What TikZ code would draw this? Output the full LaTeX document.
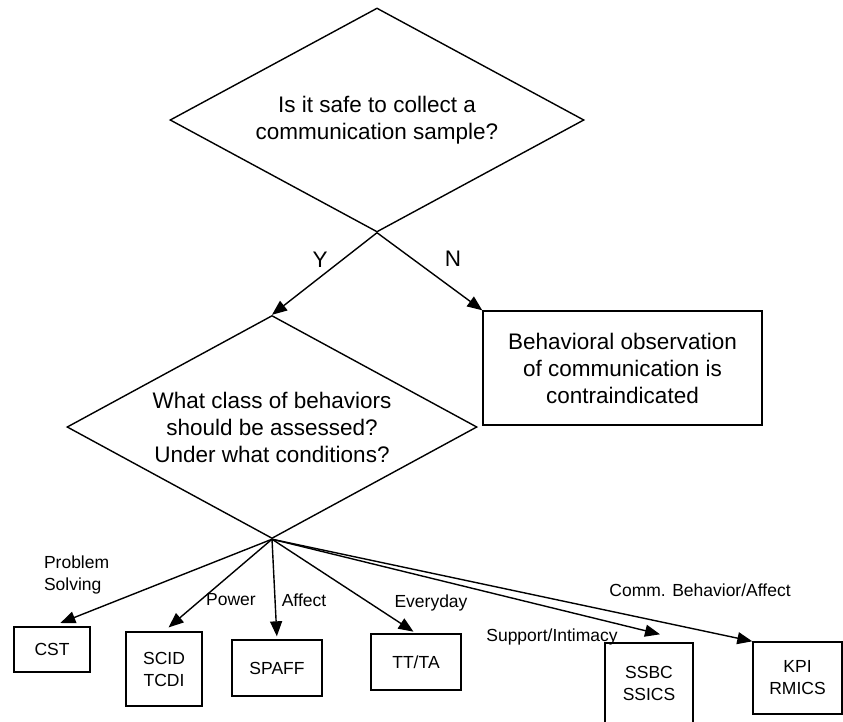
\documentclass[tikz,border=0pt]{standalone}
\usepackage{fontspec}
\setmainfont{Liberation Sans}
\usetikzlibrary{shapes.geometric}
\usetikzlibrary{arrows.meta,positioning}
\tikzset{fleche/.style={-{Triangle[length=15pt,width=12pt]}}}
\newcommand\grand{\fontsize{22.5}{27}\selectfont}
\newcommand\petit{\fontsize{17.5}{22}\selectfont}

\begin{document}
\begin{tikzpicture}[x=1pt,y=-1pt,line width=1.4pt]%
        \useasboundingbox (0,0) rectangle (843,721);%%
        \clip (0,0) rectangle (843,721);%%
        \begin{scope}[shape=diamond,inner sep=0pt,aspect=1.84]
        \tikzstyle{every node}=[draw,font=\grand,align=center] %%
        \node[minimum width=414pt,minimum height=224pt] (q1) at (377,120) {Is it safe to collect a\\communication sample?}; %%
        \node[minimum width=410pt,minimum height=223pt] (q2) at (272,427) {What class of behaviors\\should be assessed?\\Under what conditions?}; %%
        \end{scope}
        \node[draw,minimum width=279pt,minimum height=114pt,font=\grand,align=center] (contre) at (622.5,368) {Behavioral observation\\of communication is\\contraindicated}; %%
        \begin{scope}[shape=rectangle,inner sep=0pt]
        \tikzstyle{every node}=[draw,font=\petit,align=center] %%
        \node[minimum width=76pt,minimum height=45pt] (cst) at (52,649.5) {CST}; %%
        \node[minimum width=76pt,minimum height=74pt] (scid) at (164,669) {SCID\\TCDI}; %%
        \node[minimum width=90pt,minimum height=56pt] (spaff) at (277,668) {SPAFF}; %%
        \node[minimum width=90pt,minimum height=56pt] (tt) at (416,662) {TT/TA}; %%
        \node[minimum width=88pt,minimum height=80pt] (ssbc) at (649,683) {SSBC\\SSICS}; %%
        \node[minimum width=89pt,minimum height=72pt] (kpi) at (797.5,678) {KPI\\RMICS}; %%
        \end{scope}
        \node[font=\grand] (oui) at (320,260) {Y}; %%
        \node[font=\grand] (non) at (453,259) {N}; %%
        \node[font=\petit,align=left,anchor=west] (probleme) at (40,575) {Problem\\Solving}; %%
        \node[font=\petit] (pouvoir) at (231,600) {Power}; %%
        \node[font=\petit] (affect) at (304,600) {Affect}; %%
        \node[font=\petit] (quotidien) at (431,603) {Everyday}; %%
        \node[font=\petit] (soutien) at (552,637) {Support/Intimacy}; %%
        \node[font=\petit] (comm) at (700,590) {Comm. Behavior/Affect}; %%
        \draw[fleche] (q1.south)--(q2.north); %%
        \draw[fleche] (q1.south)--(contre.north west); %%
        \draw[fleche,shorten >=9pt] (q2.south)--(cst.north); %%
        \draw[fleche,shorten >=6pt] (q2.south)--(scid.north); %%
        \draw[fleche,shorten >=3pt] (q2.south)--(spaff.north); %%
        \draw[fleche,shorten >=3pt] (q2.south)--(tt.north); %%
        \draw[fleche] (q2.south)--([xshift=11pt,yshift=8pt]ssbc.north); %%
        \draw[fleche] (q2.south)--(kpi.north west); %%
        \end{tikzpicture}
\end{document}
